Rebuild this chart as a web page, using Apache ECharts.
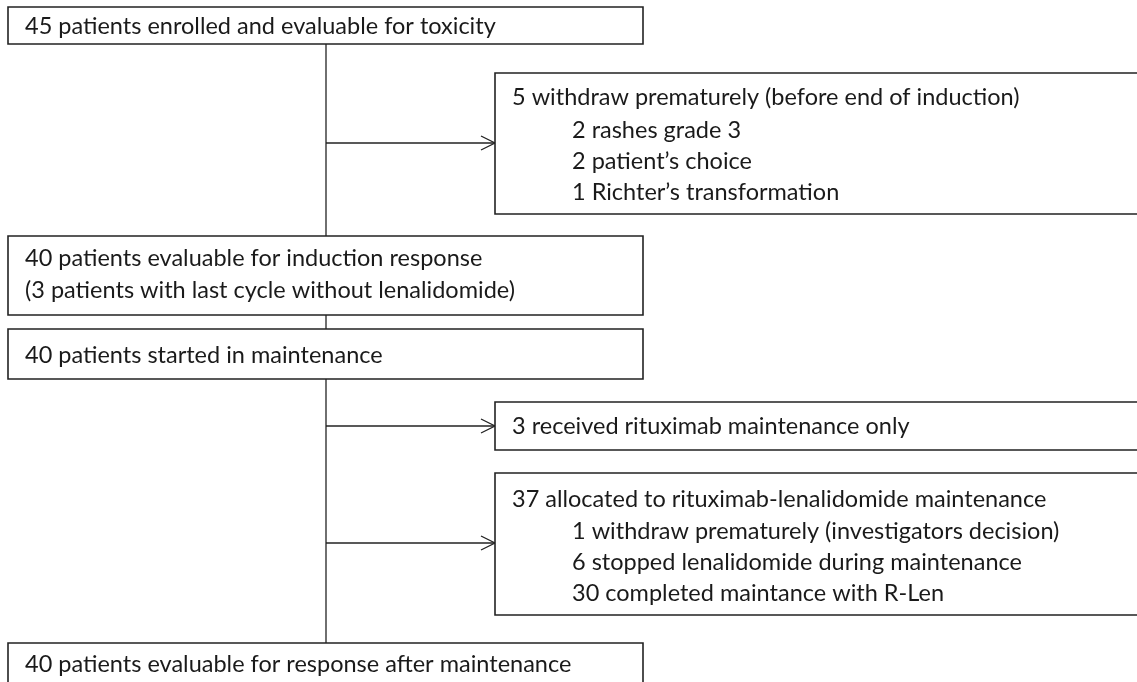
<!DOCTYPE html>
<html>
<head>
<meta charset="utf-8">
<script src="https://cdn.jsdelivr.net/npm/echarts@6/dist/echarts.min.js"></script>
<style>
  html, body { margin: 0; padding: 0; background: #fff; }
  #chart { width: 1137px; height: 682px; }
</style>
</head>
<body>
<div id="chart"></div>
<script>
  // box texts, one array per box (first line = header, rest indented)
  const boxTexts = [
    ['45 patients enrolled and evaluable for toxicity'],
    ['5 withdraw prematurely (before end of induction)', '2 rashes grade 3', '2 patient\u2019s choice', '1 Richter\u2019s transformation'],
    ['40 patients evaluable for induction response', '(3 patients with last cycle without lenalidomide)'],
    ['40 patients started in maintenance'],
    ['3 received rituximab maintenance only'],
    ['37 allocated to rituximab-lenalidomide maintenance', '1 withdraw prematurely (investigators decision)', '6 stopped lenalidomide during maintenance', '30 completed maintance with R-Len'],
    ['40 patients evaluable for response after maintenance']
  ]
  const boxIndent = [[0], [0, 1, 1, 1], [0, 0], [0], [0], [0, 1, 1, 1], [0]]

  // layout (page units, y downwards)
  const boxRects = [
    [8, 7, 643, 44],
    [495, 73, 1150, 214],
    [8, 236, 643, 315],
    [8, 329, 643, 379],
    [495, 402, 1150, 450],
    [495, 473, 1150, 615],
    [8, 643, 643, 700]
  ]
  const lineY = [[26], [97, 130, 161, 192], [258, 290], [355], [426], [499, 531, 562, 593], [664]]
  // connectors: x0, y0, x1, y1, arrow head (1/0)
  const links = [
    [326, 44, 326, 236, 0],
    [326, 315, 326, 329, 0],
    [326, 379, 326, 643, 0],
    [326, 143, 495, 143, 1],
    [326, 426, 495, 426, 1],
    [326, 543, 495, 543, 1]
  ]

  const FONT = 'Lato, "Open Sans", sans-serif'
  const INK = '#222'

  const chart = echarts.init(document.getElementById('chart'))
  chart.setOption({
    animation: false,
    grid: { left: 0, right: 0, top: 0, bottom: 0 },
    xAxis: { type: 'value', min: 0, max: 1137, show: false },
    yAxis: { type: 'value', min: 0, max: 682, inverse: true, show: false },
    series: [
      {
        type: 'custom',
        clip: true,
        data: links,
        renderItem(params, api) {
          const a = api.coord([api.value(0), api.value(1)])
          const b = api.coord([api.value(2), api.value(3)])
          const children = [{
            type: 'line',
            shape: { x1: a[0], y1: a[1], x2: b[0], y2: b[1] },
            style: { stroke: INK, lineWidth: 1.3 }
          }]
          if (api.value(4)) {
            children.push({
              type: 'polyline',
              shape: { points: [[b[0] - 14, b[1] - 7], [b[0], b[1]], [b[0] - 14, b[1] + 7]] },
              style: { stroke: INK, lineWidth: 1.3, fill: null }
            })
          }
          return { type: 'group', children }
        }
      },
      {
        type: 'custom',
        clip: true,
        data: boxRects.map((b, i) => [b[0], b[1], b[2], b[3], i]),
        renderItem(params, api) {
          const i = api.value(4)
          const p0 = api.coord([api.value(0), api.value(1)])
          const p1 = api.coord([api.value(2), api.value(3)])
          const children = [{
            type: 'rect',
            shape: { x: p0[0], y: p0[1], width: p1[0] - p0[0], height: p1[1] - p0[1] },
            style: { fill: '#fff', stroke: INK, lineWidth: 1.6 }
          }]
          boxTexts[i].forEach((t, k) => {
            const ty = api.coord([0, lineY[i][k]])[1]
            children.push({
              type: 'text',
              x: p0[0] + 17 + boxIndent[i][k] * 60,
              y: ty,
              style: {
                text: t,
                fill: '#1a1a1a',
                font: '23.5px ' + FONT,
                verticalAlign: 'middle'
              }
            })
          })
          return { type: 'group', children }
        }
      }
    ]
  })
</script>
</body>
</html>
